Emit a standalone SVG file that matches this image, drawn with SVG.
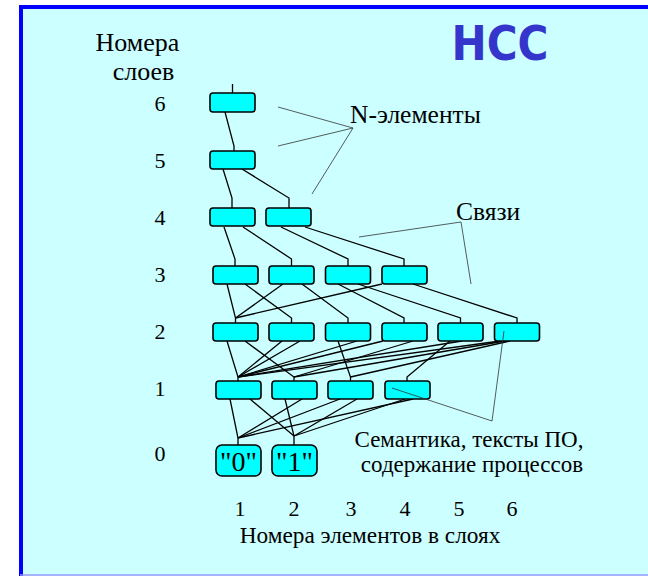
<svg xmlns="http://www.w3.org/2000/svg" width="648" height="576" viewBox="0 0 648 576">
<style>
.n{fill:#00FFFF;stroke:#000;stroke-width:1.6}
.e{stroke:#000;stroke-width:1.3;fill:none}
.p{stroke:#333;stroke-width:0.8;fill:none}
text.s{font-family:'Liberation Serif','Times New Roman','DejaVu Serif',serif;fill:#000}
</style>
<rect x="0" y="0" width="648" height="576" fill="#fff"/>
<rect x="20" y="5" width="628" height="571" fill="#CCFFFF"/>
<rect x="20" y="5" width="628" height="4" fill="#0000FF"/>
<rect x="19" y="5" width="4" height="571" fill="#0000FF"/>
<line x1="20" y1="575" x2="648" y2="575" stroke="#9999FF" stroke-width="1.5"/>
<text x="500" y="60" style="font-family:'DejaVu Sans',sans-serif" font-weight="bold" font-size="48" fill="#3535CC" text-anchor="middle" textLength="97" lengthAdjust="spacingAndGlyphs">НСС</text>
<g font-size="26" text-anchor="middle">
<text class="s" x="137.5" y="51">Номера</text>
<text class="s" x="143.5" y="80">слоев</text>
</g>
<g font-size="22" text-anchor="middle">
<text class="s" x="160" y="111">6</text>
<text class="s" x="160" y="168">5</text>
<text class="s" x="160" y="225">4</text>
<text class="s" x="160" y="282">3</text>
<text class="s" x="160" y="339">2</text>
<text class="s" x="160" y="396">1</text>
<text class="s" x="160" y="461">0</text>
<text class="s" x="240" y="516">1</text>
<text class="s" x="294" y="516">2</text>
<text class="s" x="351" y="516">3</text>
<text class="s" x="405" y="516">4</text>
<text class="s" x="459" y="516">5</text>
<text class="s" x="512" y="516">6</text>
</g>
<text class="s" x="370" y="543" font-size="23.3" text-anchor="middle">Номера элементов в слоях</text>
<g font-size="25.5">
<text class="s" x="350" y="123">N-элементы</text>
<text class="s" x="456" y="220">Связи</text>
</g>
<g font-size="23" text-anchor="middle">
<text class="s" x="469" y="447">Семантика, тексты ПО,</text>
<text class="s" x="472" y="472">содержание процессов</text>
</g>
<g id="connectors" class="e">
<line x1="232.5" y1="84" x2="232.5" y2="93"/>
<polyline points="225,112 234,146 234,151"/>
<polyline points="223,169 232,198 232,208"/>
<polyline points="242,169 289,198 289,208"/>
<polyline points="224,227 235,259 235,266"/>
<polyline points="243,227 291.5,259 291.5,266"/>
<polyline points="281,227 348,259 348,266"/>
<polyline points="305,227 404,259 404,266"/>
<polyline points="227,284 235.5,318 235.5,323"/>
<polyline points="245,284 291.5,318 291.5,323"/>
<line x1="283" y1="284" x2="235.5" y2="318"/>
<line x1="382" y1="284" x2="235.5" y2="318"/>
<polyline points="302,284 348,318 348,323"/>
<polyline points="338,284 404,318 404,323"/>
<polyline points="358,284 460.5,318 460.5,323"/>
<polyline points="413,284 517,318 517,323"/>
<polyline points="227,341 238,377 238,381"/>
<polyline points="245,341 294,377 294,381"/>
<line x1="282" y1="341" x2="238" y2="377"/>
<line x1="300" y1="341" x2="238" y2="377"/>
<polyline points="338,341 350.5,377 350.5,381"/>
<line x1="357" y1="341" x2="238" y2="377"/>
<line x1="383" y1="341" x2="238" y2="377"/>
<line x1="413" y1="341" x2="294" y2="377"/>
<polyline points="450,341 407,377 407,381"/>
<line x1="462" y1="341" x2="238" y2="377"/>
<line x1="500" y1="341" x2="238" y2="377"/>
<line x1="505" y1="341" x2="294" y2="377"/>
<line x1="510" y1="341" x2="350.5" y2="377"/>
<polyline points="230,399 238,438 238,445"/>
<line x1="250" y1="399" x2="294" y2="436"/>
<line x1="302" y1="399" x2="238" y2="438"/>
<polyline points="285,399 294,436 294,445"/>
<line x1="357" y1="399" x2="294" y2="436"/>
<line x1="340" y1="399" x2="238" y2="438"/>
<line x1="413" y1="399" x2="238" y2="438"/>
<line x1="405" y1="399" x2="294" y2="436"/>
</g>
<g id="L6"><rect class="n" x="210" y="93" width="45" height="19" rx="3"/></g>
<g id="L5"><rect class="n" x="210" y="151" width="45" height="18" rx="3"/></g>
<g id="L4-1"><rect class="n" x="210" y="208" width="45" height="18" rx="3"/></g>
<g id="L4-2"><rect class="n" x="266" y="208" width="45" height="18" rx="3"/></g>
<g id="L3-1"><rect class="n" x="213" y="266" width="45" height="18" rx="3"/></g>
<g id="L3-2"><rect class="n" x="269" y="266" width="45" height="18" rx="3"/></g>
<g id="L3-3"><rect class="n" x="325.5" y="266" width="45" height="18" rx="3"/></g>
<g id="L3-4"><rect class="n" x="382" y="266" width="45" height="18" rx="3"/></g>
<g id="L2-1"><rect class="n" x="213" y="323" width="45" height="18" rx="3"/></g>
<g id="L2-2"><rect class="n" x="269" y="323" width="45" height="18" rx="3"/></g>
<g id="L2-3"><rect class="n" x="325.5" y="323" width="45" height="18" rx="3"/></g>
<g id="L2-4"><rect class="n" x="382" y="323" width="45" height="18" rx="3"/></g>
<g id="L2-5"><rect class="n" x="438" y="323" width="45" height="18" rx="3"/></g>
<g id="L2-6"><rect class="n" x="494.5" y="323" width="45" height="18" rx="3"/></g>
<g id="L1-1"><rect class="n" x="216" y="381" width="45" height="18" rx="3"/></g>
<g id="L1-2"><rect class="n" x="272" y="381" width="45" height="18" rx="3"/></g>
<g id="L1-3"><rect class="n" x="328" y="381" width="45" height="18" rx="3"/></g>
<g id="L1-4"><rect class="n" x="385" y="381" width="45" height="18" rx="3"/></g>
<g id="L0-1"><rect class="n" x="216" y="445" width="45" height="31" rx="6"/><text class="s" x="238.5" y="471" font-size="28" text-anchor="middle">"0"</text></g>
<g id="L0-2"><rect class="n" x="272" y="445" width="45" height="31" rx="6"/><text class="s" x="294.5" y="471" font-size="28" text-anchor="middle">"1"</text></g>
<g id="pointers">
<polyline class="p" points="278,107 353,128 278,146"/>
<line class="p" x1="312" y1="194" x2="353" y2="128"/>
<polyline class="p" points="359,237 461,222 471,284"/>
<polyline class="p" points="392,388 492,421 504,331"/>
</g>
</svg>
